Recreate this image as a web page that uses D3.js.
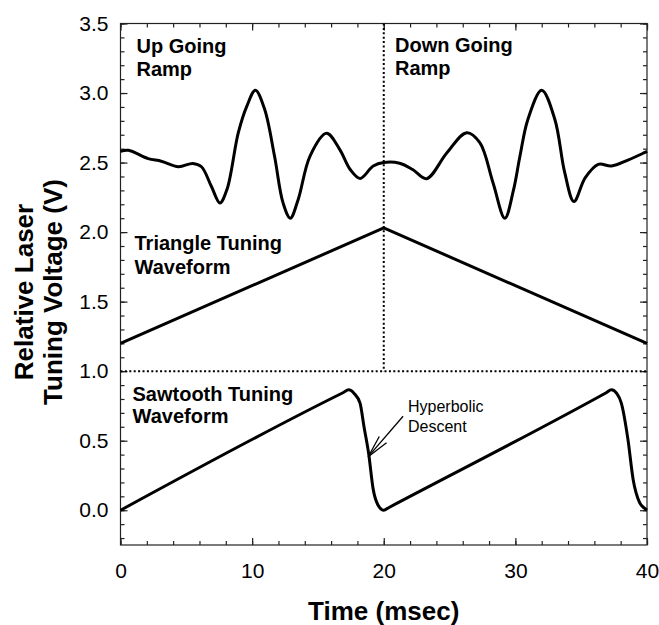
<!DOCTYPE html>
<html>
<head>
<meta charset="utf-8">
<script src="https://cdn.jsdelivr.net/npm/d3@7/dist/d3.min.js"></script>
<style>
  html, body { margin: 0; padding: 0; background: #fff; }
  svg { display: block; }
  text { font-family: "Liberation Sans", Arial, Helvetica, sans-serif; fill: #000; }
</style>
</head>
<body>
<svg id="chart" width="659" height="625"></svg>
<script>
// ---------------- data ----------------
const timeTicks = [0, 10, 20, 30, 40];
const timeMinorTicks = d3.range(0, 40.001, 2);
const voltTicks = [0.0, 0.5, 1.0, 1.5, 2.0, 2.5, 3.0, 3.5];
const voltMinorTicks = d3.range(-0.2, 3.501, 0.1).map(v => +v.toFixed(2));

// detector signal (upper trace)
const waveTime = [0, 0.6, 2.1, 3.1, 4.4, 5.5, 6.15, 6.9, 7.55, 8.1, 8.95, 9.6, 10.25, 10.95, 11.7, 12.35, 12.9, 13.5, 14.4, 15.65, 16.65, 17.45, 18.2, 19.2, 20.0, 21.2, 22.2, 23.25, 24.8, 26.3, 27.3, 28.3, 29.2, 29.85, 30.35, 30.95, 32.0, 33.0, 33.75, 34.45, 35.3, 36.3, 37.3, 38.55, 39.8, 40.0];
const waveVolt = [2.58, 2.588, 2.528, 2.51, 2.47, 2.494, 2.47, 2.33, 2.21, 2.31, 2.715, 2.906, 3.02, 2.883, 2.547, 2.21, 2.1, 2.235, 2.547, 2.71, 2.595, 2.45, 2.386, 2.475, 2.5, 2.495, 2.45, 2.384, 2.571, 2.715, 2.643, 2.355, 2.1, 2.3, 2.547, 2.81, 3.02, 2.81, 2.427, 2.22, 2.39, 2.487, 2.475, 2.518, 2.571, 2.58];

// triangle tuning waveform
const triTime = [0, 20, 40];
const triVolt = [1.2, 2.03, 1.2];

// sawtooth tuning waveform
const sawTime = [0, 16.9, 17.35, 17.75, 18.2, 18.5, 18.85, 19.2, 19.55, 20.0, 20.4, 36.9, 37.3, 37.7, 38.05, 38.55, 38.95, 39.45, 39.8, 40.0];
const sawVolt = [0, 0.845, 0.866, 0.84, 0.77, 0.6, 0.41, 0.15, 0.04, 0.0, 0.02, 0.845, 0.866, 0.84, 0.77, 0.51, 0.22, 0.053, 0.015, 0.0];

// reference (dotted) lines
const dividerTime = 20;
const dividerVolt = 1.0;

// annotation arrow: tail and tip in data units
const arrowTail = [21.47, 0.676];
const arrowTip = [18.82, 0.385];

// ---------------- layout ----------------
const svg = d3.select("#chart");
const plot = { left: 120.5, right: 647, top: 23.5, bottom: 545 };

const x = d3.scaleLinear().domain([0, 40]).range([plot.left, plot.right]);
const y = d3.scaleLinear().domain([-0.25, 3.5]).range([plot.bottom, plot.top]);

// frame
svg.append("rect")
  .attr("x", plot.left).attr("y", plot.top)
  .attr("width", plot.right - plot.left).attr("height", plot.bottom - plot.top)
  .attr("fill", "none").attr("stroke", "#222").attr("stroke-width", 1.2);

const fmt = d3.format(".1f");
const tickFont = 21;

function styleAxis(g) {
  g.select(".domain").remove();
  g.selectAll(".tick line").attr("stroke", "#222").attr("stroke-width", 1.2);
  g.selectAll("text").style("font-size", tickFont + "px").style("font-family", "Liberation Sans, Arial, sans-serif");
}

// left axis: major + minor
svg.append("g").attr("transform", `translate(${plot.left},0)`)
  .call(d3.axisLeft(y).tickValues(voltTicks).tickFormat(fmt).tickSize(-7).tickPadding(12))
  .call(styleAxis);
svg.append("g").attr("transform", `translate(${plot.left},0)`)
  .call(d3.axisLeft(y).tickValues(voltMinorTicks).tickFormat("").tickSize(-4))
  .call(styleAxis);
// right axis (mirrored ticks)
svg.append("g").attr("transform", `translate(${plot.right},0)`)
  .call(d3.axisRight(y).tickValues(voltTicks).tickFormat("").tickSize(-7))
  .call(styleAxis);
svg.append("g").attr("transform", `translate(${plot.right},0)`)
  .call(d3.axisRight(y).tickValues(voltMinorTicks).tickFormat("").tickSize(-4))
  .call(styleAxis);
// bottom axis
svg.append("g").attr("transform", `translate(0,${plot.bottom})`)
  .call(d3.axisBottom(x).tickValues(timeTicks).tickFormat(d3.format("d")).tickSize(-7).tickPadding(18.5))
  .call(styleAxis);
svg.append("g").attr("transform", `translate(0,${plot.bottom})`)
  .call(d3.axisBottom(x).tickValues(timeMinorTicks).tickFormat("").tickSize(-4))
  .call(styleAxis);
// top axis
svg.append("g").attr("transform", `translate(0,${plot.top})`)
  .call(d3.axisTop(x).tickValues(timeTicks).tickFormat("").tickSize(-7))
  .call(styleAxis);
svg.append("g").attr("transform", `translate(0,${plot.top})`)
  .call(d3.axisTop(x).tickValues(timeMinorTicks).tickFormat("").tickSize(-4))
  .call(styleAxis);

// dotted divider lines
svg.append("line")
  .attr("x1", x(dividerTime)).attr("x2", x(dividerTime))
  .attr("y1", y(3.5)).attr("y2", y(dividerVolt))
  .attr("stroke", "#000").attr("stroke-width", 2).attr("stroke-dasharray", "2,2.4");
svg.append("line")
  .attr("x1", x(0)).attr("x2", x(40))
  .attr("y1", y(dividerVolt)).attr("y2", y(dividerVolt))
  .attr("stroke", "#000").attr("stroke-width", 2).attr("stroke-dasharray", "2,2.4");

// curves
const waveData = waveTime.map((t, i) => [t, waveVolt[i]]);
const triData = triTime.map((t, i) => [t, triVolt[i]]);
const sawData = sawTime.map((t, i) => [t, sawVolt[i]]);

const lineSmooth = d3.line().x(d => x(d[0])).y(d => y(d[1])).curve(d3.curveCatmullRom.alpha(0.5));
const lineStraight = d3.line().x(d => x(d[0])).y(d => y(d[1]));
const lineMono = d3.line().x(d => x(d[0])).y(d => y(d[1])).curve(d3.curveMonotoneX);

svg.append("path").datum(waveData).attr("d", lineSmooth)
  .attr("fill", "none").attr("stroke", "#000").attr("stroke-width", 3).attr("stroke-linejoin", "round");
svg.append("path").datum(triData).attr("d", lineStraight)
  .attr("fill", "none").attr("stroke", "#000").attr("stroke-width", 3).attr("stroke-linejoin", "miter");
svg.append("path").datum(sawData).attr("d", lineMono)
  .attr("fill", "none").attr("stroke", "#000").attr("stroke-width", 3).attr("stroke-linejoin", "round");

// annotation arrow
const tx = x(arrowTail[0]), ty = y(arrowTail[1]);
const px = x(arrowTip[0]), py = y(arrowTip[1]);
svg.append("line").attr("x1", tx).attr("y1", ty).attr("x2", px).attr("y2", py)
  .attr("stroke", "#000").attr("stroke-width", 1.3);
const ang = Math.atan2(ty - py, tx - px);
const headLen = 23, spread = 12 * Math.PI / 180;
[-spread, spread].forEach(s => {
  svg.append("line")
    .attr("x1", px).attr("y1", py)
    .attr("x2", px + headLen * Math.cos(ang + s)).attr("y2", py + headLen * Math.sin(ang + s))
    .attr("stroke", "#000").attr("stroke-width", 1.3);
});

// labels inside plot
function label(lines, xp, yp, size, weight, lh) {
  const t = svg.append("text").attr("x", xp).attr("y", yp)
    .style("font-size", size + "px").style("font-weight", weight);
  lines.forEach((s, i) => {
    t.append("tspan").attr("x", xp).attr("y", yp + i * lh).text(s);
  });
}
label(["Up Going", "Ramp"], 136.5, 52.5, 20, "bold", 23.5);
label(["Down Going", "Ramp"], 395, 51.5, 20, "bold", 23.5);
label(["Triangle Tuning", "Waveform"], 134.5, 250, 20, "bold", 23.5);
label(["Sawtooth Tuning", "Waveform"], 132.5, 400.5, 20, "bold", 22.5);
label(["Hyperbolic", "Descent"], 408, 411.5, 16, "normal", 20);

// axis titles
svg.append("text")
  .attr("x", (plot.left + plot.right) / 2).attr("y", 620)
  .attr("text-anchor", "middle")
  .style("font-size", "26px").style("font-weight", "bold")
  .text("Time (msec)");

const yt = svg.append("text")
  .attr("transform", `translate(0,292) rotate(-90)`)
  .attr("text-anchor", "middle")
  .style("font-size", "26px").style("font-weight", "bold");
yt.append("tspan").attr("x", 0).attr("y", 33).text("Relative Laser");
yt.append("tspan").attr("x", 0).attr("y", 62).text("Tuning Voltage (V)");
</script>
</body>
</html>
